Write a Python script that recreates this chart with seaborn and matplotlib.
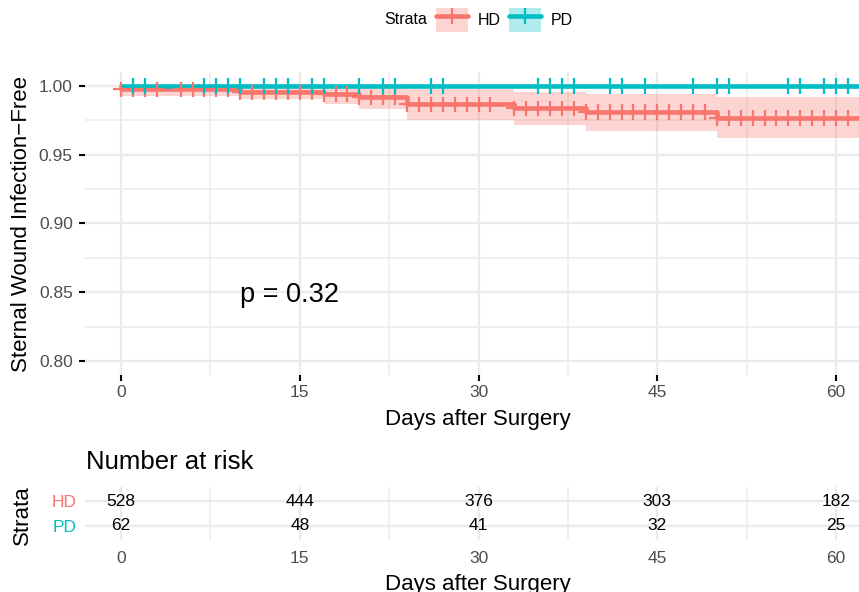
import numpy as np
import pandas as pd
import matplotlib
matplotlib.use("Agg")
import matplotlib.pyplot as plt
from matplotlib.lines import Line2D
from matplotlib.patches import Patch
import seaborn as sns

# Kaplan-Meier estimates
strata = ["HD", "PD"]
colors = {"HD": "#F8766D", "PD": "#00BFC4"}

hd_time = [0, 10, 17, 20, 24, 33, 39, 50]
hd_surv = [0.9975, 0.9953, 0.9942, 0.9918, 0.9867, 0.9838, 0.9809, 0.9769]
hd_lower = [0.9927, 0.9907, 0.9869, 0.9833, 0.9755, 0.9719, 0.9675, 0.9622]
hd_upper = [1.0, 0.9999, 0.9995, 0.9990, 0.9977, 0.9954, 0.9942, 0.9918]
hd_censor = [0, 1, 2, 3, 5, 6, 7, 8, 9, 10, 11, 12, 13, 14, 15, 16, 17, 18, 19,
             20, 21, 22, 23, 24, 25, 26, 27, 28, 29, 30, 31, 33, 34, 35, 36, 37,
             38, 39, 40, 41, 42, 43, 44, 45, 46, 47, 48, 49, 50, 51, 52, 53, 54,
             55, 56, 57, 58, 59, 60, 61]

pd_time = [0]
pd_surv = [1.0]
pd_lower = [1.0]
pd_upper = [1.0]
pd_censor = [1, 2, 7, 8, 9, 10, 12, 13, 14, 16, 17, 20, 22, 23, 26, 27, 35, 36,
             37, 38, 41, 42, 44, 48, 50, 51, 56, 57, 59, 60, 61]

t_end = 62

risk_days = [0, 15, 30, 45, 60]
hd_risk = [528, 444, 376, 303, 182]
pd_risk = [62, 48, 41, 32, 25]

pval_label = "p = 0.32"


def km_frame(name, t, s, lo, hi):
    return pd.DataFrame({"strata": name, "time": t + [t_end], "surv": s + [s[-1]],
                         "lower": lo + [lo[-1]], "upper": hi + [hi[-1]]})


def censor_frame(name, t, s, cens):
    idx = np.searchsorted(t, cens, side="right") - 1
    return pd.DataFrame({"strata": name, "time": cens, "surv": np.array(s)[idx]})


curves = pd.concat([km_frame("HD", hd_time, hd_surv, hd_lower, hd_upper),
                    km_frame("PD", pd_time, pd_surv, pd_lower, pd_upper)])
marks = pd.concat([censor_frame("HD", hd_time, hd_surv, hd_censor),
                   censor_frame("PD", pd_time, pd_surv, pd_censor)])

sns.set_theme(style="white")
plt.rcParams["font.family"] = ["Liberation Sans", "DejaVu Sans"]
plt.rcParams["text.color"] = "black"

W, H = 859, 592
fig = plt.figure(figsize=(W / 100, H / 100), dpi=100)
x0, x1 = 85.25, 859.0
ax = fig.add_axes([x0 / W, 1 - 374.75 / H, (x1 - x0) / W, 302.5 / H])
ax2 = fig.add_axes([x0 / W, 1 - 540 / H, (x1 - x0) / W, 53.3 / H])

grid_col = "#EBEBEB"
xmax = -3 + (x1 - x0) / 11.917

for a in (ax, ax2):
    a.set_xlim(-3, xmax)
    a.set_xticks(risk_days)
    a.set_xticks([7.5, 22.5, 37.5, 52.5], minor=True)
    a.grid(which="major", color=grid_col, lw=1.7)
    a.grid(which="minor", axis="x", color=grid_col, lw=1.1)
    for sp in a.spines.values():
        sp.set_visible(False)
    a.set_axisbelow(True)

# survival panel
for name in strata:
    c = curves[curves.strata == name]
    ax.fill_between(c.time, c.lower, c.upper, step="post", color=colors[name],
                    alpha=0.3, lw=0)
sns.lineplot(data=curves, x="time", y="surv", hue="strata", palette=colors,
             drawstyle="steps-post", lw=3.3, estimator=None, legend=False, ax=ax)
sns.scatterplot(data=marks, x="time", y="surv", hue="strata", palette=colors,
                marker="+", s=125, linewidth=1.6, legend=False, ax=ax, zorder=3)

ax.set_ylim(0.79, 1.01)
ax.set_yticks([0.80, 0.85, 0.90, 0.95, 1.00])
ax.set_yticklabels(["0.80", "0.85", "0.90", "0.95", "1.00"])
ax.set_yticks([0.825, 0.875, 0.925, 0.975], minor=True)
ax.grid(which="minor", axis="y", color=grid_col, lw=1.1)
ax.tick_params(which="major", length=4, width=1.5, color="black",
               labelcolor="#4D4D4D", labelsize=12.5, pad=3.5, left=True, bottom=True)
ax.tick_params(axis="y", pad=5)
ax.tick_params(which="minor", length=0)
ax.set_xlabel("")
ax.set_ylabel("")
ax.text(10, 0.8478, pval_label, fontsize=19.5, ha="left", va="center", color="black")

fig.text(22 / W, 1 - 223.5 / H, "Sternal Wound Infection\u2212Free", rotation=90,
         ha="center", va="center", fontsize=16)
fig.text(478 / W, 1 - 425 / H, "Days after Surgery", ha="center",
         va="baseline", fontsize=16)

# legend on top
fig.text(384 / W, 1 - 20 / H, "Strata", ha="left", va="center", fontsize=11.5)
handles = [(Patch(facecolor=colors[n], alpha=0.3, lw=0),
            Line2D([], [], color=colors[n], lw=3.3, marker="+", ms=11, mew=1.6))
           for n in strata]
leg = fig.legend(handles, strata, loc="center left",
                 bbox_to_anchor=(436 / W, 1 - 20 / H), ncol=2, frameon=False,
                 fontsize=11.5, handlelength=2, handleheight=2, handletextpad=0.6,
                 columnspacing=0.55, borderpad=0, borderaxespad=0)
for t in leg.get_texts():
    t.set_color("black")

# number at risk table
rows = {"HD": 1, "PD": 0}
for name, counts in (("HD", hd_risk), ("PD", pd_risk)):
    for d, n in zip(risk_days, counts):
        ax2.text(d, rows[name], str(n), ha="center", va="center", fontsize=12.5,
                 color="black")
ax2.set_ylim(-0.56, 1.572)
ax2.set_yticks([rows[n] for n in strata])
ax2.set_yticklabels(strata)
ax2.tick_params(which="both", length=0, labelsize=12.5, labelcolor="#4D4D4D")
ax2.tick_params(axis="y", pad=6.5)
ax2.tick_params(axis="x", pad=8)
for lbl, n in zip(ax2.get_yticklabels(), strata):
    lbl.set_color(colors[n])
fig.text(86 / W, 1 - 462 / H, "Number at risk", ha="left", va="center", fontsize=18.5)
fig.text(22 / W, 1 - 515 / H, "Strata", rotation=90, ha="center", va="center",
         fontsize=16)
fig.text(478 / W, 0.003, "Days after Surgery", ha="center", va="baseline",
         fontsize=16)

fig.savefig("out.png", dpi=100)
